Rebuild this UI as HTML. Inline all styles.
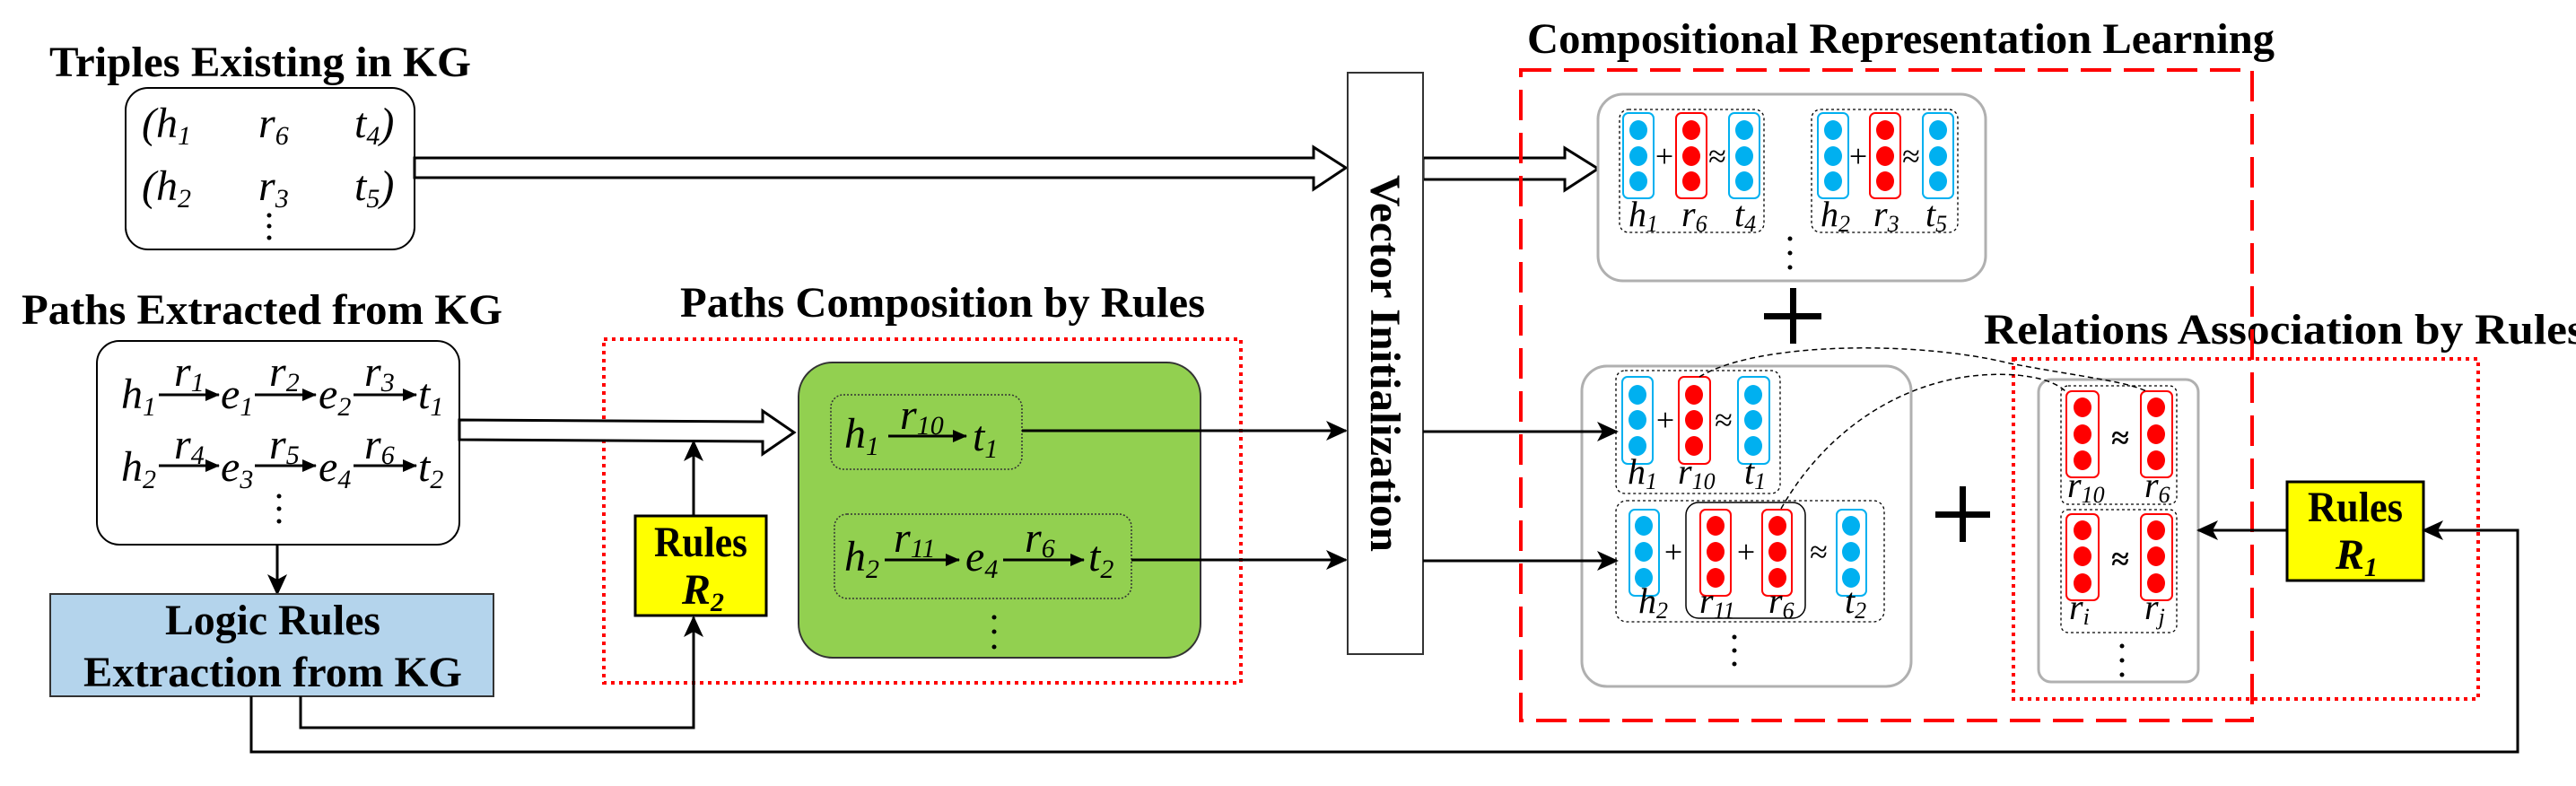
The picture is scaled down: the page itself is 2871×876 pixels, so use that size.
<!DOCTYPE html>
<html><head><meta charset="utf-8"><style>
html,body{margin:0;padding:0;background:#fff;}
svg{display:block;}
.t{font-family:"Liberation Serif","Times New Roman",serif;font-weight:bold;font-size:48px;}
.m{font-family:"Liberation Serif","Times New Roman",serif;font-style:italic;font-size:48px;}
.v{font-family:"Liberation Serif","Times New Roman",serif;font-style:italic;font-size:40px;}
.op{font-family:"Liberation Serif","Times New Roman",serif;font-size:36px;}
</style></head><body>
<svg width="2871" height="876" viewBox="0 0 2871 876" xmlns="http://www.w3.org/2000/svg">
<defs>
<marker id="ar" markerUnits="userSpaceOnUse" markerWidth="24" markerHeight="22" refX="22" refY="11" orient="auto">
<path d="M0,0 L24,11 L0,22 L6,11 Z" fill="#000"/></marker>
<marker id="sa" markerUnits="userSpaceOnUse" markerWidth="16" markerHeight="14" refX="15" refY="7" orient="auto">
<path d="M0,0 L16,7 L0,14 Z" fill="#000"/></marker>
</defs>

<!-- Titles -->
<text class="t" x="55" y="85" textLength="470" lengthAdjust="spacingAndGlyphs">Triples Existing in KG</text>
<text class="t" x="24" y="361" textLength="536" lengthAdjust="spacingAndGlyphs">Paths Extracted from KG</text>
<text class="t" x="758" y="353" textLength="585" lengthAdjust="spacingAndGlyphs">Paths Composition by Rules</text>
<text class="t" x="1702" y="59" textLength="833" lengthAdjust="spacingAndGlyphs">Compositional Representation Learning</text>
<text class="t" x="2211" y="383" textLength="670" lengthAdjust="spacingAndGlyphs">Relations Association by Rules</text>

<!-- Triples box -->
<rect x="140" y="98" width="322" height="180" rx="25" fill="#fff" stroke="#000" stroke-width="2"/>
<text class="m" x="158" y="153">(h<tspan font-size="30" dy="8">1</tspan></text>
<text class="m" x="288" y="153">r<tspan font-size="30" dy="8">6</tspan></text>
<text class="m" x="395" y="153">t<tspan font-size="30" dy="8">4</tspan><tspan dy="-8">)</tspan></text>
<text class="m" x="158" y="223">(h<tspan font-size="30" dy="8">2</tspan></text>
<text class="m" x="288" y="223">r<tspan font-size="30" dy="8">3</tspan></text>
<text class="m" x="395" y="223">t<tspan font-size="30" dy="8">5</tspan><tspan dy="-8">)</tspan></text>
<g fill="#000"><circle cx="300" cy="240" r="2.5"/><circle cx="300" cy="252" r="2.5"/><circle cx="300" cy="265" r="2.5"/></g>

<!-- Hollow arrows -->
<polygon points="462,176 1464,176 1464,164 1500,187 1464,211 1464,198 462,198" fill="#fff" stroke="#000" stroke-width="3"/>
<polygon points="1586,176 1744,176 1744,165 1781,188 1744,212 1744,200 1586,200" fill="#fff" stroke="#000" stroke-width="3"/>

<!-- Paths box -->
<rect x="108" y="380" width="404" height="227" rx="25" fill="#fff" stroke="#000" stroke-width="2"/>
<g>
<text class="m" x="135" y="455">h<tspan font-size="30" dy="8">1</tspan></text>
<line x1="177" y1="440" x2="244" y2="440" stroke="#000" stroke-width="3" marker-end="url(#sa)"/>
<text class="m" x="194" y="430">r<tspan font-size="30" dy="6">1</tspan></text>
<text class="m" x="246" y="455">e<tspan font-size="30" dy="8">1</tspan></text>
<line x1="284" y1="440" x2="352" y2="440" stroke="#000" stroke-width="3" marker-end="url(#sa)"/>
<text class="m" x="300" y="430">r<tspan font-size="30" dy="6">2</tspan></text>
<text class="m" x="355" y="455">e<tspan font-size="30" dy="8">2</tspan></text>
<line x1="394" y1="440" x2="464" y2="440" stroke="#000" stroke-width="3" marker-end="url(#sa)"/>
<text class="m" x="406" y="430">r<tspan font-size="30" dy="6">3</tspan></text>
<text class="m" x="466" y="455">t<tspan font-size="30" dy="8">1</tspan></text>

<text class="m" x="135" y="536">h<tspan font-size="30" dy="8">2</tspan></text>
<line x1="177" y1="519" x2="244" y2="519" stroke="#000" stroke-width="3" marker-end="url(#sa)"/>
<text class="m" x="194" y="511">r<tspan font-size="30" dy="6">4</tspan></text>
<text class="m" x="246" y="536">e<tspan font-size="30" dy="8">3</tspan></text>
<line x1="284" y1="519" x2="352" y2="519" stroke="#000" stroke-width="3" marker-end="url(#sa)"/>
<text class="m" x="300" y="511">r<tspan font-size="30" dy="6">5</tspan></text>
<text class="m" x="355" y="536">e<tspan font-size="30" dy="8">4</tspan></text>
<line x1="394" y1="519" x2="464" y2="519" stroke="#000" stroke-width="3" marker-end="url(#sa)"/>
<text class="m" x="406" y="511">r<tspan font-size="30" dy="6">6</tspan></text>
<text class="m" x="466" y="536">t<tspan font-size="30" dy="8">2</tspan></text>
<g fill="#000"><circle cx="311" cy="553" r="2.5"/><circle cx="311" cy="567" r="2.5"/><circle cx="311" cy="581" r="2.5"/></g>
</g>

<!-- Down arrow to logic rules -->
<line x1="309" y1="607" x2="309" y2="662" stroke="#000" stroke-width="3" marker-end="url(#ar)"/>
<rect x="56" y="662" width="494" height="114" fill="#b4d4ec" stroke="#333" stroke-width="2"/>
<text class="t" x="304" y="707" text-anchor="middle" textLength="240" lengthAdjust="spacingAndGlyphs">Logic Rules</text>
<text class="t" x="304" y="765" text-anchor="middle" textLength="422" lengthAdjust="spacingAndGlyphs">Extraction from KG</text>

<!-- Paths composition -->
<rect x="673" y="378" width="710" height="383" fill="none" stroke="#ff0000" stroke-width="4" stroke-dasharray="4 5"/>
<polygon points="512,468 850,470 850,458 885,482 850,506 850,492 512,490" fill="#fff" stroke="#000" stroke-width="3"/>
<rect x="708" y="575" width="146" height="111" fill="#ffff00" stroke="#000" stroke-width="3"/>
<text class="t" x="781" y="620" text-anchor="middle" textLength="104" lengthAdjust="spacingAndGlyphs">Rules</text>
<text class="m" x="760" y="673" font-weight="bold">R<tspan font-size="30" dy="8">2</tspan></text>
<line x1="773" y1="575" x2="773" y2="492" stroke="#000" stroke-width="3" marker-end="url(#ar)"/>
<polyline points="335,776 335,811 773,811 773,688" fill="none" stroke="#000" stroke-width="3" marker-end="url(#ar)"/>

<rect x="890" y="404" width="448" height="329" rx="38" fill="#92d050" stroke="#333" stroke-width="2"/>
<rect x="926" y="440" width="213" height="83" rx="14" fill="none" stroke="#333" stroke-width="1.5" stroke-dasharray="2 2"/>
<text class="m" x="941" y="499">h<tspan font-size="30" dy="8">1</tspan></text>
<line x1="990" y1="486" x2="1077" y2="486" stroke="#000" stroke-width="3" marker-end="url(#sa)"/>
<text class="m" x="1003" y="478">r<tspan font-size="30" dy="6">10</tspan></text>
<text class="m" x="1084" y="502">t<tspan font-size="30" dy="8">1</tspan></text>
<rect x="930" y="573" width="331" height="94" rx="14" fill="none" stroke="#333" stroke-width="1.5" stroke-dasharray="2 2"/>
<text class="m" x="941" y="636">h<tspan font-size="30" dy="8">2</tspan></text>
<line x1="986" y1="624" x2="1069" y2="624" stroke="#000" stroke-width="3" marker-end="url(#sa)"/>
<text class="m" x="996" y="615">r<tspan font-size="30" dy="6">11</tspan></text>
<text class="m" x="1076" y="636">e<tspan font-size="30" dy="8">4</tspan></text>
<line x1="1118" y1="624" x2="1208" y2="624" stroke="#000" stroke-width="3" marker-end="url(#sa)"/>
<text class="m" x="1142" y="615">r<tspan font-size="30" dy="6">6</tspan></text>
<text class="m" x="1213" y="636">t<tspan font-size="30" dy="8">2</tspan></text>
<g fill="#000"><circle cx="1108" cy="688" r="2.5"/><circle cx="1108" cy="704" r="2.5"/><circle cx="1108" cy="721" r="2.5"/></g>
<line x1="1139" y1="480" x2="1500" y2="480" stroke="#000" stroke-width="3" marker-end="url(#ar)"/>
<line x1="1261" y1="624" x2="1500" y2="624" stroke="#000" stroke-width="3" marker-end="url(#ar)"/>

<!-- Vector Initialization -->
<rect x="1502" y="81" width="84" height="648" fill="#fff" stroke="#333" stroke-width="2"/>
<text class="t" transform="translate(1528,405) rotate(90)" text-anchor="middle" font-size="50" textLength="420" lengthAdjust="spacingAndGlyphs">Vector Initialization</text>

<!-- CRL -->
<rect x="1695" y="78" width="815" height="725" fill="none" stroke="#ff0000" stroke-width="4" stroke-dasharray="34 14"/>
<rect x="1781" y="105" width="432" height="208" rx="28" fill="#fff" stroke="#b0b0b0" stroke-width="3"/>
<rect x="1805" y="122" width="161" height="137" rx="10" fill="none" stroke="#000" stroke-width="1.3" stroke-dasharray="3 3"/>
<rect x="2019" y="122" width="163" height="137" rx="10" fill="none" stroke="#000" stroke-width="1.3" stroke-dasharray="3 3"/>
<g stroke-width="2" fill="#fff">
<rect x="1809" y="126" width="34" height="95" rx="6" stroke="#00b0f0"/>
<rect x="1868" y="126" width="34" height="95" rx="6" stroke="#ff0000"/>
<rect x="1927" y="126" width="34" height="95" rx="6" stroke="#00b0f0"/>
<rect x="2026" y="126" width="34" height="95" rx="6" stroke="#00b0f0"/>
<rect x="2084" y="126" width="34" height="95" rx="6" stroke="#ff0000"/>
<rect x="2143" y="126" width="34" height="95" rx="6" stroke="#00b0f0"/>
</g>
<g fill="#00b0f0">
<ellipse cx="1826" cy="145" rx="10" ry="11"/><ellipse cx="1826" cy="174" rx="10" ry="11"/><ellipse cx="1826" cy="202" rx="10" ry="11"/>
<ellipse cx="1944" cy="145" rx="10" ry="11"/><ellipse cx="1944" cy="174" rx="10" ry="11"/><ellipse cx="1944" cy="202" rx="10" ry="11"/>
<ellipse cx="2043" cy="145" rx="10" ry="11"/><ellipse cx="2043" cy="174" rx="10" ry="11"/><ellipse cx="2043" cy="202" rx="10" ry="11"/>
<ellipse cx="2160" cy="145" rx="10" ry="11"/><ellipse cx="2160" cy="174" rx="10" ry="11"/><ellipse cx="2160" cy="202" rx="10" ry="11"/>
</g>
<g fill="#ff0000">
<ellipse cx="1885" cy="145" rx="10" ry="11"/><ellipse cx="1885" cy="174" rx="10" ry="11"/><ellipse cx="1885" cy="202" rx="10" ry="11"/>
<ellipse cx="2101" cy="145" rx="10" ry="11"/><ellipse cx="2101" cy="174" rx="10" ry="11"/><ellipse cx="2101" cy="202" rx="10" ry="11"/>
</g>
<text class="op" x="1855" y="186" text-anchor="middle">+</text>
<text class="op" x="1914" y="186" text-anchor="middle">≈</text>
<text class="op" x="2071" y="186" text-anchor="middle">+</text>
<text class="op" x="2130" y="186" text-anchor="middle">≈</text>
<text class="v" x="1815" y="252">h<tspan font-size="26" dy="6">1</tspan></text>
<text class="v" x="1874" y="252">r<tspan font-size="26" dy="6">6</tspan></text>
<text class="v" x="1933" y="252">t<tspan font-size="26" dy="6">4</tspan></text>
<text class="v" x="2029" y="252">h<tspan font-size="26" dy="6">2</tspan></text>
<text class="v" x="2088" y="252">r<tspan font-size="26" dy="6">3</tspan></text>
<text class="v" x="2146" y="252">t<tspan font-size="26" dy="6">5</tspan></text>
<g fill="#000"><circle cx="1995" cy="266" r="2.5"/><circle cx="1995" cy="282" r="2.5"/><circle cx="1995" cy="298" r="2.5"/></g>

<!-- big plus -->
<rect x="1966" y="349" width="64" height="7" fill="#000"/>
<rect x="1995" y="321" width="7" height="62" fill="#000"/>
<rect x="2157" y="570" width="61" height="7" fill="#000"/>
<rect x="2184" y="542" width="7" height="62" fill="#000"/>

<!-- second gray box -->
<rect x="1763" y="408" width="367" height="357" rx="28" fill="#fff" stroke="#b0b0b0" stroke-width="3"/>
<rect x="1801" y="413" width="183" height="137" rx="10" fill="none" stroke="#000" stroke-width="1.3" stroke-dasharray="3 3"/>
<rect x="1801" y="558" width="299" height="135" rx="12" fill="none" stroke="#000" stroke-width="1.3" stroke-dasharray="3 3"/>
<rect x="1879" y="560" width="133" height="129" rx="14" fill="none" stroke="#000" stroke-width="1.5"/>
<g stroke-width="2" fill="#fff">
<rect x="1808" y="420" width="34" height="97" rx="6" stroke="#00b0f0"/>
<rect x="1871" y="420" width="35" height="97" rx="6" stroke="#ff0000"/>
<rect x="1937" y="420" width="35" height="97" rx="6" stroke="#00b0f0"/>
<rect x="1816" y="568" width="33" height="96" rx="6" stroke="#00b0f0"/>
<rect x="1895" y="568" width="34" height="96" rx="6" stroke="#ff0000"/>
<rect x="1964" y="568" width="33" height="96" rx="6" stroke="#ff0000"/>
<rect x="2047" y="568" width="33" height="96" rx="6" stroke="#00b0f0"/>
</g>
<g fill="#00b0f0">
<ellipse cx="1825" cy="440" rx="10" ry="11"/><ellipse cx="1825" cy="468" rx="10" ry="11"/><ellipse cx="1825" cy="497" rx="10" ry="11"/>
<ellipse cx="1954" cy="440" rx="10" ry="11"/><ellipse cx="1954" cy="468" rx="10" ry="11"/><ellipse cx="1954" cy="497" rx="10" ry="11"/>
<ellipse cx="1832" cy="586" rx="10" ry="11"/><ellipse cx="1832" cy="615" rx="10" ry="11"/><ellipse cx="1832" cy="644" rx="10" ry="11"/>
<ellipse cx="2063" cy="586" rx="10" ry="11"/><ellipse cx="2063" cy="615" rx="10" ry="11"/><ellipse cx="2063" cy="644" rx="10" ry="11"/>
</g>
<g fill="#ff0000">
<ellipse cx="1888" cy="440" rx="10" ry="11"/><ellipse cx="1888" cy="468" rx="10" ry="11"/><ellipse cx="1888" cy="497" rx="10" ry="11"/>
<ellipse cx="1912" cy="586" rx="10" ry="11"/><ellipse cx="1912" cy="615" rx="10" ry="11"/><ellipse cx="1912" cy="644" rx="10" ry="11"/>
<ellipse cx="1981" cy="586" rx="10" ry="11"/><ellipse cx="1981" cy="615" rx="10" ry="11"/><ellipse cx="1981" cy="644" rx="10" ry="11"/>
</g>
<text class="op" x="1856" y="480" text-anchor="middle">+</text>
<text class="op" x="1921" y="480" text-anchor="middle">≈</text>
<text class="op" x="1865" y="627" text-anchor="middle">+</text>
<text class="op" x="1946" y="627" text-anchor="middle">+</text>
<text class="op" x="2027" y="627" text-anchor="middle">≈</text>
<text class="v" x="1814" y="539">h<tspan font-size="26" dy="6">1</tspan></text>
<text class="v" x="1870" y="539">r<tspan font-size="26" dy="6">10</tspan></text>
<text class="v" x="1944" y="539">t<tspan font-size="26" dy="6">1</tspan></text>
<text class="v" x="1826" y="683">h<tspan font-size="26" dy="6">2</tspan></text>
<text class="v" x="1894" y="683">r<tspan font-size="26" dy="6">11</tspan></text>
<text class="v" x="1971" y="683">r<tspan font-size="26" dy="6">6</tspan></text>
<text class="v" x="2056" y="683">t<tspan font-size="26" dy="6">2</tspan></text>
<g fill="#000"><circle cx="1933" cy="710" r="2.5"/><circle cx="1933" cy="725" r="2.5"/><circle cx="1933" cy="740" r="2.5"/></g>

<!-- arrows from VI (drawn above boxes) -->
<line x1="1586" y1="481" x2="1802" y2="481" stroke="#000" stroke-width="3" marker-end="url(#ar)"/>
<line x1="1586" y1="625" x2="1802" y2="625" stroke="#000" stroke-width="3" marker-end="url(#ar)"/>

<!-- RAR -->
<rect x="2244" y="400" width="518" height="379" fill="none" stroke="#ff0000" stroke-width="4" stroke-dasharray="4 5"/>
<rect x="2272" y="423" width="178" height="337" rx="14" fill="#fff" stroke="#b0b0b0" stroke-width="3"/>
<rect x="2297" y="430" width="129" height="132" rx="8" fill="none" stroke="#000" stroke-width="1.3" stroke-dasharray="3 3"/>
<rect x="2297" y="568" width="129" height="137" rx="8" fill="none" stroke="#000" stroke-width="1.3" stroke-dasharray="3 3"/>
<g stroke-width="2" fill="#fff" stroke="#ff0000">
<rect x="2303" y="436" width="36" height="96" rx="6"/>
<rect x="2386" y="436" width="35" height="96" rx="6"/>
<rect x="2303" y="573" width="36" height="96" rx="6"/>
<rect x="2386" y="573" width="35" height="96" rx="6"/>
</g>
<g fill="#ff0000">
<ellipse cx="2321" cy="454" rx="10" ry="11"/><ellipse cx="2321" cy="484" rx="10" ry="11"/><ellipse cx="2321" cy="513" rx="10" ry="11"/>
<ellipse cx="2403" cy="454" rx="10" ry="11"/><ellipse cx="2403" cy="484" rx="10" ry="11"/><ellipse cx="2403" cy="513" rx="10" ry="11"/>
<ellipse cx="2321" cy="591" rx="10" ry="11"/><ellipse cx="2321" cy="620" rx="10" ry="11"/><ellipse cx="2321" cy="650" rx="10" ry="11"/>
<ellipse cx="2403" cy="591" rx="10" ry="11"/><ellipse cx="2403" cy="620" rx="10" ry="11"/><ellipse cx="2403" cy="650" rx="10" ry="11"/>
</g>
<text class="op" x="2363" y="500" text-anchor="middle" font-size="52" font-weight="bold">≈</text>
<text class="op" x="2363" y="635" text-anchor="middle" font-size="52" font-weight="bold">≈</text>
<text class="v" x="2304" y="554">r<tspan font-size="26" dy="6">10</tspan></text>
<text class="v" x="2390" y="554">r<tspan font-size="26" dy="6">6</tspan></text>
<text class="v" x="2306" y="690">r<tspan font-size="26" dy="6">i</tspan></text>
<text class="v" x="2390" y="690">r<tspan font-size="26" dy="6">j</tspan></text>
<g fill="#000"><circle cx="2365" cy="720" r="2.5"/><circle cx="2365" cy="736" r="2.5"/><circle cx="2365" cy="752" r="2.5"/></g>

<!-- dashed curves -->
<path d="M1894,420 C1960,380 2140,380 2240,405 C2320,420 2370,425 2392,436" fill="none" stroke="#000" stroke-width="1.5" stroke-dasharray="6 4"/>
<path d="M1985,567 C2040,470 2140,410 2247,418 C2270,420 2290,425 2302,436" fill="none" stroke="#000" stroke-width="1.5" stroke-dasharray="6 4"/>

<!-- Rules R1 -->
<rect x="2549" y="537" width="152" height="110" fill="#ffff00" stroke="#000" stroke-width="3"/>
<text class="t" x="2625" y="581" text-anchor="middle" textLength="106" lengthAdjust="spacingAndGlyphs">Rules</text>
<text class="m" x="2603" y="634" font-weight="bold">R<tspan font-size="30" dy="8">1</tspan></text>
<line x1="2549" y1="591" x2="2450" y2="591" stroke="#000" stroke-width="3" marker-end="url(#ar)"/>
<polyline points="280,776 280,838 2806,838 2806,591 2701,591" fill="none" stroke="#000" stroke-width="3" marker-end="url(#ar)"/>
</svg>
</body></html>
